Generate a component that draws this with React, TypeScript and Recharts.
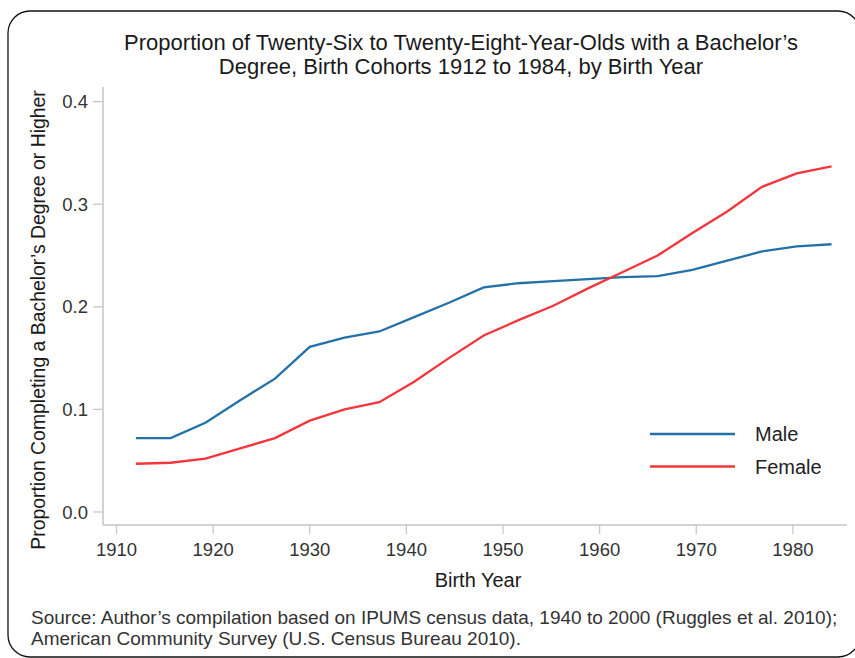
import React from 'react';
import { LineChart, Line, XAxis, YAxis, Legend } from 'recharts';

const years = [1912, 1915.6, 1919.2, 1922.8, 1926.4, 1930, 1933.6, 1937.2, 1940.8, 1944.4, 1948, 1951.6, 1955.2, 1958.8, 1962.4, 1966, 1969.6, 1973.2, 1976.8, 1980.4, 1984];
const male = [0.072, 0.072, 0.087, 0.109, 0.130, 0.161, 0.170, 0.176, 0.190, 0.204, 0.219, 0.223, 0.225, 0.227, 0.229, 0.230, 0.236, 0.245, 0.254, 0.259, 0.261];
const female = [0.047, 0.048, 0.052, 0.062, 0.072, 0.089, 0.100, 0.107, 0.127, 0.150, 0.172, 0.187, 0.201, 0.218, 0.234, 0.250, 0.272, 0.293, 0.317, 0.330, 0.337];
const xTicks = [1910, 1920, 1930, 1940, 1950, 1960, 1970, 1980];
const yTicks = [0, 0.1, 0.2, 0.3, 0.4];
const seriesNames = ['Male', 'Female'];
const titleLines = [
  "Proportion of Twenty-Six to Twenty-Eight-Year-Olds with a Bachelor\u2019s",
  'Degree, Birth Cohorts 1912 to 1984, by Birth Year',
];
const sourceLines = [
  'Source: Author\u2019s compilation based on IPUMS census data, 1940 to 2000 (Ruggles et al. 2010);',
  'American Community Survey (U.S. Census Bureau 2010).',
];
const xLabel = 'Birth Year';
const yLabel = 'Proportion Completing a Bachelor\u2019s Degree or Higher';

const data = years.map((y, i) => ({ year: y, Male: male[i], Female: female[i] }));

const BLUE = '#2471a8';
const RED = '#f2363b';
const AXIS = '#c4c4c4';
const FONT = '"Liberation Sans", Arial, Helvetica, sans-serif';

const LegendBox = () => (
  <svg width={200} height={70} style={{ display: 'block' }}>
    {[BLUE, RED].map((c, i) => (
      <g key={i}>
        <line x1={0} x2={85} y1={14 + i * 32.5} y2={14 + i * 32.5} stroke={c} strokeWidth={2.5} />
        <text x={105} y={14 + i * 32.5} dy="0.35em" fontSize={20} fill="#222" fontFamily={FONT}>
          {seriesNames[i]}
        </text>
      </g>
    ))}
  </svg>
);

export default function App() {
  return (
    <div style={{ position: 'absolute', left: 0, top: 0, width: 855, height: 658, background: '#fff', fontFamily: FONT }}>
      <svg width={855} height={658} style={{ position: 'absolute', left: 0, top: 0 }}>
        <rect x={8} y={11} width={852} height={646} rx={22} ry={22} fill="none" stroke="#111" strokeWidth={1.3} />
        {titleLines.map((t, i) => (
          <text key={i} x={461} y={50 + i * 23.5} textAnchor="middle" fontSize={22} fill="#1a1a1a" fontFamily={FONT}>
            {t}
          </text>
        ))}
        {sourceLines.map((t, i) => (
          <text key={i} x={31} y={624 + i * 21} fontSize={19} fill="#333" fontFamily={FONT}>
            {t}
          </text>
        ))}
      </svg>
      <div style={{ position: 'absolute', left: 0, top: 0 }}>
        <LineChart width={855} height={658} data={data} margin={{ top: 87, right: 8, left: 33, bottom: 93 }}>
          <XAxis
            type="number"
            dataKey="year"
            domain={[1908.6, 1985.6]}
            ticks={xTicks}
            allowDataOverflow
            height={40}
            tickSize={9}
            tickMargin={9}
            axisLine={{ stroke: AXIS, strokeWidth: 1.5 }}
            tickLine={{ stroke: AXIS, strokeWidth: 1.2 }}
            tick={{ fill: '#333', fontSize: 18.5, fontFamily: FONT }}
            label={{
              content: ({ viewBox }: any) => (
                <text x={478} y={viewBox.y + 62} textAnchor="middle" fontSize={20} fill="#1a1a1a" fontFamily={FONT}>
                  {xLabel}
                </text>
              ),
            }}
          />
          <YAxis
            type="number"
            domain={[-0.0127, 0.4143]}
            ticks={yTicks}
            allowDataOverflow
            width={70}
            tickSize={10}
            tickMargin={5}
            tickFormatter={(v: number) => v.toFixed(1)}
            axisLine={{ stroke: AXIS, strokeWidth: 1.5 }}
            tickLine={{ stroke: AXIS, strokeWidth: 1.2 }}
            tick={{ fill: '#333', fontSize: 18.5, fontFamily: FONT }}
            label={{
              content: () => (
                <text
                  transform="translate(38, 320) rotate(-90)"
                  textAnchor="middle"
                  dy="0.35em"
                  fontSize={19.4}
                  fill="#1a1a1a"
                  fontFamily={FONT}
                >
                  {yLabel}
                </text>
              ),
            }}
          />
          <Legend
            layout="vertical"
            align="center"
            verticalAlign="middle"
            wrapperStyle={{ position: 'absolute', left: 650, top: 420, width: 200 }}
            content={() => <LegendBox />}
          />
          <Line type="linear" dataKey="Male" stroke={BLUE} strokeWidth={2.3} dot={false} isAnimationActive={false} />
          <Line type="linear" dataKey="Female" stroke={RED} strokeWidth={2.3} dot={false} isAnimationActive={false} />
        </LineChart>
      </div>
    </div>
  );
}
